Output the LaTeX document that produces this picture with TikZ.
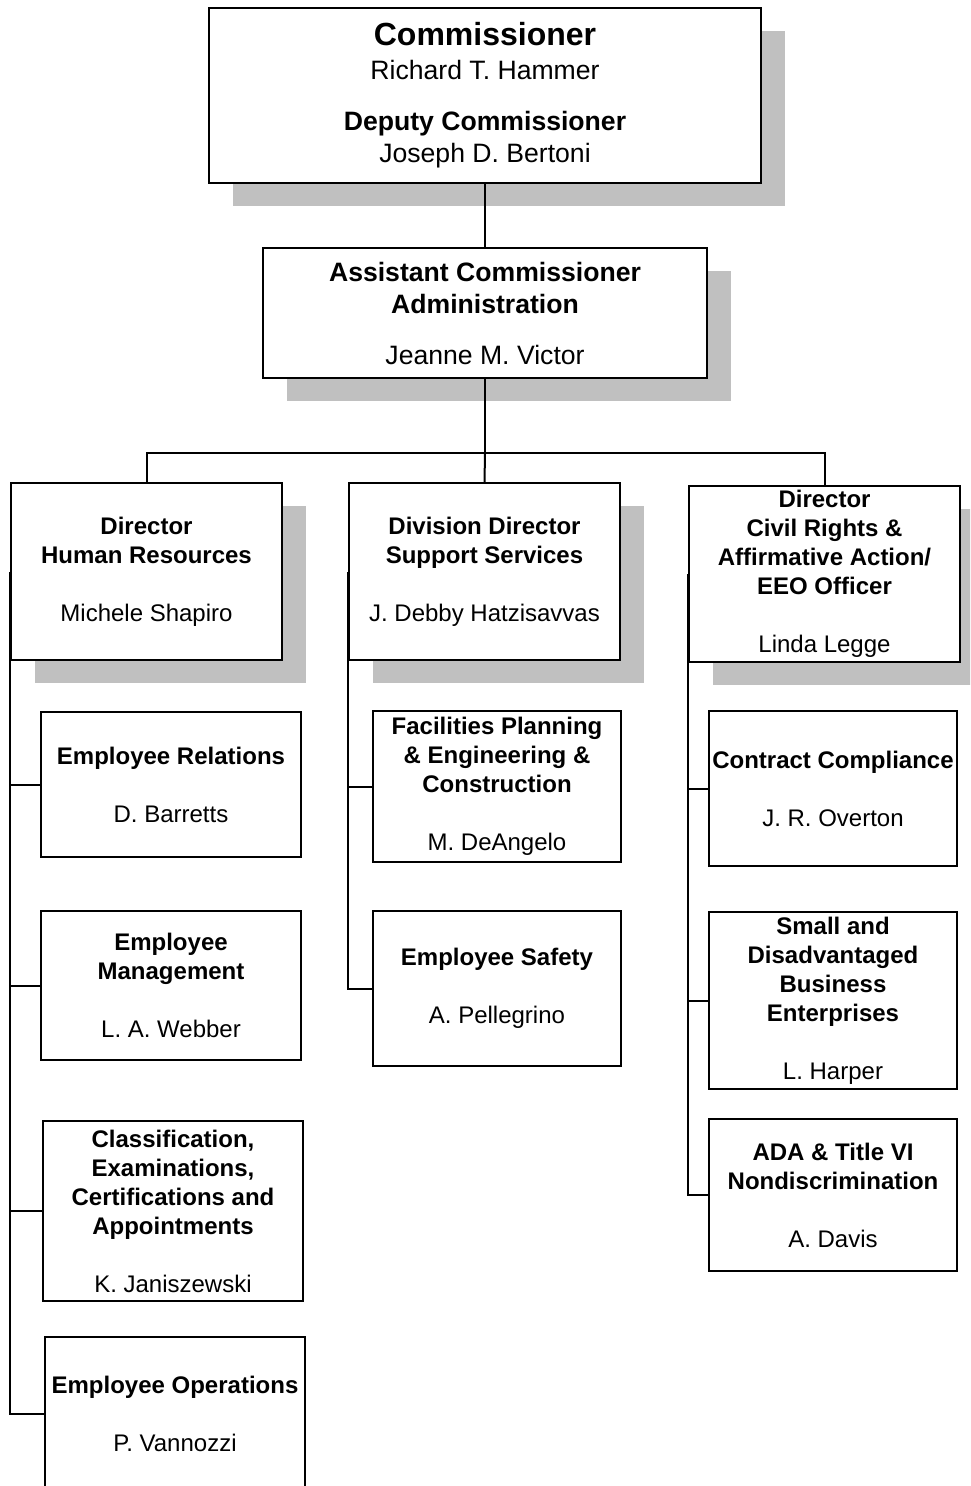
\documentclass[tikz,border=0pt]{standalone}
\usepackage{fontspec}
\setmainfont{Liberation Sans}
\usetikzlibrary{shadows}
\definecolor{ShadowGray}{HTML}{C0C0C0}

\begin{document}
\begin{tikzpicture}[x=0.5pt, y=-0.5pt, line width=1pt,
    head/.style={draw, fill=white, inner sep=0pt, align=center,
        general shadow={fill=ShadowGray, shadow xshift=12pt, shadow yshift=-11.5pt},
        font=\fontsize{12}{14.5}\selectfont},
    unit/.style={draw, fill=white, inner sep=0pt, align=center,
        font=\fontsize{12}{14.5}\selectfont}]
    \useasboundingbox (0,0) rectangle (970,1486);
    \clip (0,0) rectangle (970,1486);
    % top of the chart
    \node[head, minimum width=276pt, minimum height=87.5pt, font=\fontsize{13.3}{16}\selectfont] (comm) at (485,95.5)
        {{\fontsize{16}{18}\selectfont\bfseries Commissioner}\\[1pt] Richard T. Hammer\\[9.5pt]
         \textbf{Deputy Commissioner}\\ Joseph D. Bertoni};
    \node[head, minimum width=222pt, minimum height=65pt, font=\fontsize{13.3}{16}\selectfont] (asst) at (485,313)
        {\textbf{Assistant Commissioner}\\ \textbf{Administration}\\[9.5pt] Jeanne M. Victor};
    % directors
    \node[head, minimum width=135.5pt, minimum height=88.5pt] (hr) at (146.5,571.5)
        {\textbf{Director}\\ \textbf{Human Resources}\\[14.5pt] Michele Shapiro};
    \node[head, minimum width=135.5pt, minimum height=88.5pt] (supp) at (484.5,571.5)
        {\textbf{Division Director}\\ \textbf{Support Services}\\[14.5pt] J. Debby Hatzisavvas};
    \node[head, minimum width=135.5pt, minimum height=88pt] (civil) at (824.5,574)
        {\textbf{Director}\\ \textbf{Civil Rights \&}\\ \textbf{Affirmative Action/}\\ \textbf{EEO Officer}\\[14.5pt] Linda Legge};
    % human resources units
    \node[unit, minimum width=130pt, minimum height=72.5pt] (erel) at (171,784.5)
        {\textbf{Employee Relations}\\[14.5pt] D. Barretts};
    \node[unit, minimum width=130pt, minimum height=74.5pt] (emgmt) at (171,985.5)
        {\textbf{Employee}\\ \textbf{Management}\\[14.5pt] L. A. Webber};
    \node[unit, minimum width=130pt, minimum height=90pt] (class) at (173,1211)
        {\textbf{Classification,}\\ \textbf{Examinations,}\\ \textbf{Certifications and}\\ \textbf{Appointments}\\[14.5pt] K. Janiszewski};
    \node[unit, minimum width=130pt, minimum height=77pt] (eops) at (175,1414)
        {\textbf{Employee Operations}\\[14.5pt] P. Vannozzi};
    % support services units
    \node[unit, minimum width=124pt, minimum height=75.5pt] (fac) at (497,786.5)
        {\textbf{Facilities Planning}\\ \textbf{\& Engineering \&}\\ \textbf{Construction}\\[14.5pt] M. DeAngelo};
    \node[unit, minimum width=124pt, minimum height=77.5pt] (safe) at (497,988.5)
        {\textbf{Employee Safety}\\[14.5pt] A. Pellegrino};
    % civil rights units
    \node[unit, minimum width=124pt, minimum height=77.5pt] (cc) at (833,788.5)
        {\textbf{Contract Compliance}\\[14.5pt] J. R. Overton};
    \node[unit, minimum width=124pt, minimum height=88.5pt] (sdbe) at (833,1000.5)
        {\textbf{Small and}\\ \textbf{Disadvantaged}\\ \textbf{Business}\\ \textbf{Enterprises}\\[14.5pt] L. Harper};
    \node[unit, minimum width=124pt, minimum height=76pt] (ada) at (833,1195)
        {\textbf{ADA \& Title VI}\\ \textbf{Nondiscrimination}\\[14.5pt] A. Davis};
    % connectors
    \coordinate (bus) at (485,453);
    \draw (comm.south) -- (asst.north);
    \draw (asst.south) -- (bus);
    \draw (hr.north) |- (bus) -| (civil.north);
    \draw (bus) -- (supp.north);
    \draw (hr.west) |- (eops.west);
    \foreach \n in {erel,emgmt,class}
        \draw (hr.west |- \n.west) -- (\n.west);
    \draw (supp.west) |- (safe.west);
    \draw (supp.west |- fac.west) -- (fac.west);
    \draw (civil.west) |- (ada.west);
    \foreach \n in {cc,sdbe}
        \draw (civil.west |- \n.west) -- (\n.west);
\end{tikzpicture}
\end{document}
